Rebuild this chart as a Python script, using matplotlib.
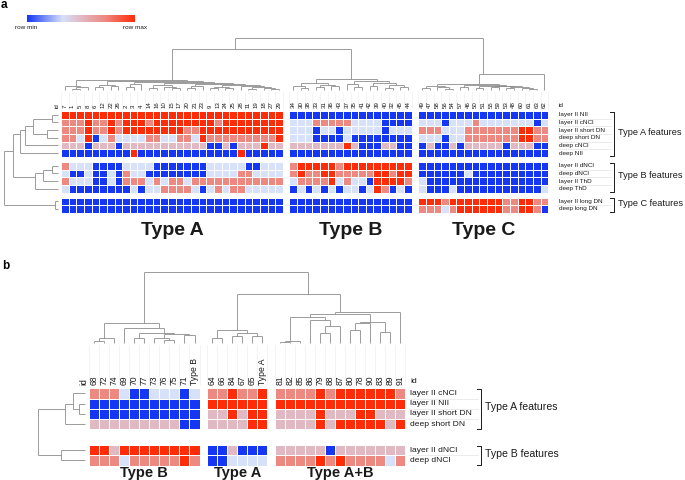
import numpy as np
import matplotlib
matplotlib.use('Agg')
import matplotlib.pyplot as plt
from matplotlib.colors import LinearSegmentedColormap

plt.rcParams['font.family'] = ['Liberation Sans', 'DejaVu Sans']

# ---------------- panel a data ----------------
a_rows = ['layer II NII', 'layer II cNCl', 'layer II short DN', 'deep short DN', 'deep cNCl', 'deep NII',
          'layer II dNCl', 'deep dNCl', 'layer II ThD', 'deep ThD',
          'layer II long DN', 'deep long DN']
a_row_groups = [6, 4, 2]
a_features = ['Type A features', 'Type B features', 'Type C features']
a_types = ['Type A', 'Type B', 'Type C']

a_ids_A = [7, 1, 5, 8, 6, 12, 22, 26, 2, 3, 4, 14, 16, 10, 15, 17, 20, 21, 23, 9, 13, 24, 25, 28, 11, 19, 18, 27, 29]
a_ids_B = [34, 30, 38, 33, 31, 36, 43, 37, 35, 41, 42, 39, 40, 32, 45, 44]
a_ids_C = [49, 47, 58, 56, 54, 57, 46, 50, 51, 55, 59, 53, 48, 60, 61, 63, 62]

# levels: 0 = row min (blue) ... 4 = row max (red)
a_vals_A = [
    "4 4 4 4 4 4 4 4 4 4 4 4 4 4 4 4 4 4 4 4 4 4 4 4 4 4 4 4 4",
    "3 3 3 4 3 3 4 3 4 4 4 3 4 4 4 4 4 4 4 4 3 4 4 4 4 4 4 4 4",
    "3 3 3 4 3 3 4 3 4 4 4 4 4 4 4 4 3 3 4 4 4 4 4 4 4 4 4 4 4",
    "3 3 1 4 0 1 3 1 1 1 1 3 3 1 1 3 3 1 4 3 3 3 3 3 3 3 3 3 4",
    "2 2 2 0 2 2 2 0 2 2 2 2 2 2 2 2 2 2 2 0 0 2 0 2 2 2 4 2 2",
    "0 0 0 0 0 0 0 0 0 4 0 0 0 0 0 0 0 0 0 0 0 0 0 4 0 0 0 0 0",
    "3 1 1 1 0 0 0 0 1 1 1 1 0 0 0 0 0 0 0 1 1 1 1 1 0 0 1 1 1",
    "1 0 0 1 0 0 1 0 3 1 1 0 0 0 0 0 0 0 0 1 1 1 1 3 3 1 1 1 1",
    "3 1 1 1 0 0 1 0 3 3 3 1 3 1 3 3 1 3 3 3 3 3 3 3 3 3 3 3 3",
    "1 0 0 0 0 0 0 0 0 1 0 1 1 3 3 3 3 1 0 1 3 1 3 3 1 1 1 1 1",
    "0 0 0 0 0 0 0 0 0 0 0 0 0 0 0 0 0 0 0 0 0 0 0 0 0 0 0 0 0",
    "0 0 0 0 0 0 0 0 0 0 0 0 0 0 0 0 0 0 0 0 0 0 0 0 0 0 0 0 0",
]
a_vals_B = [
    "0 0 0 0 0 0 0 0 0 0 0 0 0 0 0 0",
    "1 1 1 3 3 3 3 3 1 1 1 1 0 0 0 0",
    "1 1 1 0 1 1 0 1 1 1 1 1 0 1 1 1",
    "1 1 1 0 0 0 0 1 0 0 0 0 0 0 0 0",
    "2 2 2 2 2 2 2 4 2 0 0 0 2 2 0 0",
    "0 0 0 0 0 0 0 0 0 0 0 0 0 0 0 0",
    "3 4 4 4 4 4 3 4 4 4 4 4 4 4 4 4",
    "3 4 3 3 4 4 3 3 3 3 3 4 4 3 4 4",
    "1 3 3 3 3 4 1 3 1 1 0 4 4 4 4 3",
    "0 1 0 1 0 1 0 1 1 0 1 4 3 0 1 0",
    "0 0 0 0 0 0 0 0 0 0 0 0 0 0 0 0",
    "0 0 0 0 0 0 0 0 0 0 0 0 0 0 0 0",
]
a_vals_C = [
    "0 0 0 0 0 0 0 0 0 0 0 0 0 0 0 0 0",
    "1 1 1 0 1 1 1 3 1 1 1 1 1 1 1 0 1",
    "3 3 3 1 1 1 3 3 3 3 3 3 3 4 4 3 3",
    "1 1 1 0 1 1 3 3 3 3 3 3 3 4 4 3 3",
    "0 2 0 0 2 0 2 2 2 2 2 0 2 2 2 0 0",
    "0 0 0 0 0 0 0 0 0 0 0 0 0 0 0 0 0",
    "0 0 0 0 0 0 0 0 0 0 0 0 0 0 0 0 0",
    "0 0 0 0 0 0 1 0 0 0 0 0 0 0 0 0 0",
    "1 0 0 0 0 0 0 0 0 0 0 0 0 0 0 0 0",
    "1 0 0 0 1 0 0 0 0 0 0 0 0 0 0 0 1",
    "4 4 4 3 4 4 4 4 4 4 4 3 3 4 4 3 3",
    "3 3 3 1 3 4 4 4 4 4 4 3 3 4 4 3 0",
]

# dendrograms: [height, left, right], leaves are local column indices
a_tree_A = [10, [4, 0, [3, [1.5, 1, 2], 3]],
            [9, [5, [3, 4, 5], [4, 6, 7]],
             [8, [6, [3, 8, 9], 10],
              [7, [5, [2, 11, 12], [3, 13, [2, 14, 15]]],
               [6, [4, [2, 16, 17], 18],
                [5.5, [3, [2, 19, 20], [2.5, 21, 22]],
                 [4.5, 23, [3, [1.5, 24, 25], [2, 26, [1, 27, 28]]]]]]]]]]
a_tree_B = [11, [7, [4, 0, [2, 1, 2]], [5, [3, 3, 4], [4, 5, 6]]],
            [9, [6, 7, [3, 8, 9]], [7, [4, 10, 11], [5, [2, 12, 13], [3, 14, 15]]]]]
a_tree_C = [16, [6, [4, [2, 0, 1], [3, 2, [1.5, 3, 4]]],
                 [5, [3, 5, 6], [4.5, [2, 7, 8], [4, [3, 9, 10], [3.5, [2, 11, 12], [2.5, 13, [1.5, 14, 15]]]]]]],
            16]
a_top_heights = [41, 52]          # (A,B) link, root
a_row_tree = [54, [45, [38, [33, [25, [6, 0, 1], [11, 2, 3]], 4], 5],
                   [23, [15, [6, 6, 7], 8], 9]],
              [3, 10, 11]]

# ---------------- panel b data ----------------
b_rows = ['layer II cNCl', 'layer II NII', 'layer II short DN', 'deep short DN',
          'layer II dNCl', 'deep dNCl']
b_row_groups = [4, 2]
b_features = ['Type A features', 'Type B features']
b_types = ['Type B', 'Type A', 'Type A+B']

b_ids_B = ['68', '72', '74', '69', '70', '77', '73', '76', '75', '71', 'Type B']
b_ids_A = ['64', '66', '84', '67', '65', 'Type A']
b_ids_AB = ['81', '82', '85', '86', '79', '88', '87', '80', '78', '90', '83', '89', '91']

b_vals_B = [
    "3 3 3 1 0 0 1 1 1 0 1",
    "0 0 0 0 0 0 0 0 0 0 0",
    "0 0 0 0 0 0 0 0 0 0 0",
    "2 2 2 2 2 2 2 2 2 0 0",
    "4 4 2 4 4 4 4 4 4 4 4",
    "3 3 3 1 3 3 3 3 3 4 3",
]
b_vals_A = [
    "3 3 4 3 3 4",
    "4 4 4 4 4 4",
    "2 2 4 2 4 4",
    "2 2 2 2 4 4",
    "0 0 2 0 0 0",
    "0 0 1 1 1 1",
]
b_vals_AB = [
    "3 3 3 3 4 3 4 4 4 4 4 4 3",
    "4 4 4 4 4 4 4 4 4 4 4 4 4",
    "2 2 2 2 4 2 2 2 4 4 2 2 2",
    "2 2 2 2 4 2 4 4 4 4 4 2 4",
    "2 2 2 2 2 0 2 2 2 2 2 2 2",
    "3 3 3 3 4 3 4 3 3 3 3 1 3",
]

b_tree_B = [20, [5, [2, 0, 1], 2], [15.3, 3, [10, [5, 4, 5], [9.5, [5, 6, [3, 7, 8]], [8, 9, 10]]]]]
b_tree_A = [13, [5, 0, 1], [10, [7, 2, 3], [7.5, 4, 5]]]
b_tree_AB = [31.3, [29, [26.3, [2, [1, 0, 1], 2], [23, 3, [17.5, [10, 4, 5], 6]]],
                   [21.3, [19.7, [13, 7, 8], 9], [11.3, 10, 11]]],
             12]
b_top_heights = [49, 71]          # (A, A+B) link, root
b_row_tree = [47, [20, [11.7, 0, [5.7, 1, 2]], 3], [24.3, 4, 5]]

# ---------------- style ----------------
level_pos = [0.0, 0.33, 0.5, 0.72, 1.0]
cmap = LinearSegmentedColormap.from_list('rowscale', list(zip(level_pos,
        ['#1537f3', '#d7e1fa', '#e1b9c3', '#ee8a82', '#ff2c09'])))
DCOL = '#8c8c8c'
TXT = '#1a1a1a'


def parse(rows):
    return np.array([[level_pos[int(v)] for v in r.split()] for r in rows])


def starts(counts, s0, size, gap):
    out, s = [], s0
    for n in counts:
        out.append(s)
        s += n * size + gap
    return out


def shift(node, k):
    if isinstance(node, int):
        return node + k
    return [node[0], shift(node[1], k), shift(node[2], k)]


def draw_tree(ax, node, pos, base, orient):
    # node position = mean of its leaves (weighted by leaf count)
    if isinstance(node, int):
        return pos[node], 0.0, 1
    h, l, r = node
    p1, h1, n1 = draw_tree(ax, l, pos, base, orient)
    p2, h2, n2 = draw_tree(ax, r, pos, base, orient)
    p = (p1 * n1 + p2 * n2) / (n1 + n2)
    segs = [([p1, p1], [base - h1, base - h]), ([p2, p2], [base - h2, base - h]),
            ([p1, p2], [base - h, base - h])]
    for a, b in segs:
        if orient == 'col':
            ax.plot(a, b, color=DCOL, lw=0.6, solid_capstyle='butt')
        else:
            ax.plot(b, a, color=DCOL, lw=0.6, solid_capstyle='butt')
    return p, h, n1 + n2


def panel(ax, vals, ids, rows, row_groups, x0, cw, cgap, y0, rh, rgap,
          col_base, lab_y, col_fs, row_x, row_fs, br_x, feat, feat_fs,
          types, type_y, type_fs, trees):
    ncols = [len(i) for i in ids]
    cs = starts(ncols, x0, cw, cgap)
    rs = starts(row_groups, y0, rh, rgap)
    xc = np.concatenate([s + cw * (np.arange(n) + 0.5) for s, n in zip(cs, ncols)])
    yc = np.concatenate([s + rh * (np.arange(n) + 0.5) for s, n in zip(rs, row_groups)])
    # cells
    for g, (s, n) in enumerate(zip(cs, ncols)):
        m = parse(vals[g])
        r0 = 0
        for rs_, rn in zip(rs, row_groups):
            ax.pcolormesh(s + cw * np.arange(n + 1), rs_ + rh * np.arange(rn + 1),
                          m[r0:r0 + rn], cmap=cmap, vmin=0, vmax=1,
                          edgecolors='white', linewidth=0.7)
            r0 += rn
    # faint label guides + column labels
    all_ids = [str(v) for grp in ids for v in grp]
    for s, n in zip(cs, ncols):
        for k in range(n + 1):
            ax.plot([s + k * cw] * 2, [col_base + 2, lab_y], color='#f0f0f0', lw=0.5)
    for x, t in zip(xc, all_ids):
        ax.text(x, lab_y, t, rotation=90, ha='center', va='bottom', fontsize=col_fs, color=TXT)
    ax.text(cs[0] - cw * 0.5, lab_y, 'id', rotation=90, ha='center', va='bottom', fontsize=col_fs, color=TXT)
    ax.text(row_x, y0 - rh * 0.7, 'id', ha='left', va='center', fontsize=row_fs, color=TXT)
    # row labels, separators and brackets
    for y, t in zip(yc, rows):
        ax.text(row_x, y, t, ha='left', va='center', fontsize=row_fs, color=TXT)
    for s, n, f in zip(rs, row_groups, feat):
        for k in range(1, n):
            ax.plot([row_x - 1, br_x - 3], [s + k * rh] * 2, color='#e4e4e4', lw=0.5)
        top, bot = s + 0.6, s + n * rh - 0.6
        ax.plot([br_x - 4, br_x, br_x, br_x - 4], [top, top, bot, bot], color=TXT, lw=0.7)
        ax.text(br_x + 4, (top + bot) / 2 - 1.5, f, ha='left', va='center', fontsize=feat_fs, color=TXT)
    # group labels
    for s, n, t in zip(cs, ncols, types):
        ax.text(s + n * cw / 2, type_y, t, ha='center', va='baseline', fontsize=type_fs,
                fontweight='bold', color=TXT)
    offs = np.cumsum([0] + ncols[:-1])
    t = [shift(tr, int(o)) for tr, o in zip(trees, offs)]
    return xc, yc, t


fig = plt.figure(figsize=(6.85, 4.8), dpi=100)
ax = fig.add_axes([0, 0, 1, 1])
ax.axis('off')

# ----- panel a -----
xa, ya, ta = panel(ax, [a_vals_A, a_vals_B, a_vals_C], [a_ids_A, a_ids_B, a_ids_C],
                   a_rows, a_row_groups, 61, 7.65, 6.5, 111, 7.65, 5,
                   90, 108.5, 4.4, 559, 4.6, 614, a_features, 6.6,
                   a_types, 235, 14, [a_tree_A, a_tree_B, a_tree_C])
draw_tree(ax, [a_top_heights[1], [a_top_heights[0], ta[0], ta[1]], ta[2]], xa, 90, 'col')
draw_tree(ax, a_row_tree, ya, 58.5, 'row')

grad = np.linspace(0, 1, 256)[None, :]
ax.imshow(grad, extent=[27, 135, 22, 15], cmap=cmap, aspect='auto', interpolation='bilinear')
ax.text(26, 27.5, 'row min', ha='center', va='center', fontsize=4.6, color=TXT)
ax.text(135, 27.5, 'row max', ha='center', va='center', fontsize=4.6, color=TXT)
ax.text(1, 5, 'a', ha='left', va='center', fontsize=8.5, fontweight='bold')

# ----- panel b -----
xb, yb, tb = panel(ax, [b_vals_B, b_vals_A, b_vals_AB], [b_ids_B, b_ids_A, b_ids_AB],
                   b_rows, b_row_groups, 89, 10.05, 7.5, 388.3, 10.25, 15.7,
                   343, 385, 6.2, 410, 6.1, 481, b_features, 7.6,
                   b_types, 477, 10.5, [b_tree_B, b_tree_A, b_tree_AB])
draw_tree(ax, [b_top_heights[1], tb[0], [b_top_heights[0], tb[1], tb[2]]], xb, 343, 'col')
draw_tree(ax, b_row_tree, yb, 85, 'row')
ax.text(2, 266, 'b', ha='left', va='center', fontsize=8.5, fontweight='bold')

ax.set_xlim(0, 685)
ax.set_ylim(480, 0)
fig.savefig('out.png', dpi=100, facecolor='white')
